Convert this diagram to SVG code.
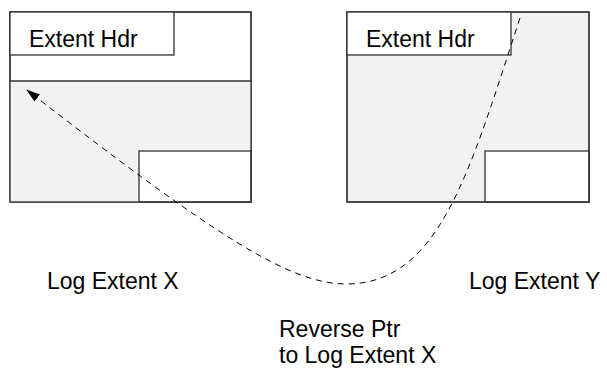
<svg xmlns="http://www.w3.org/2000/svg" width="607" height="370" viewBox="0 0 607 370">
<defs>
<style>
.box{fill:#ffffff;stroke:#333333;stroke-width:1.3}
.gray{fill:#f2f2f2;stroke:none}
.ln{fill:none;stroke:#333333;stroke-width:1.3}
.t{font-family:"Liberation Sans",Arial,Helvetica,sans-serif;font-size:23px;fill:#000000}
.conn{fill:none;stroke:#000000;stroke-width:1;stroke-dasharray:6,5}
</style>
<marker id="arr" markerWidth="14" markerHeight="9" refX="13" refY="4.5" orient="auto" markerUnits="userSpaceOnUse">
<path d="M0,0 L14,4.5 L0,9 Z" fill="#000000"/>
</marker>
</defs>
<rect width="607" height="370" fill="#ffffff"/>
<g id="logExtentX">
<rect class="box" x="10" y="12" width="241" height="190"/>
<path class="gray" d="M10,81 H251 V151 H139 V202 H10 Z"/>
<path class="ln" d="M10,81 H251"/>
<rect class="box" x="139" y="151" width="112" height="51"/>
<rect class="box" x="10" y="12" width="241" height="190" style="fill:none"/>
<rect class="box" x="10" y="12" width="164" height="43"/>
<text class="t" x="29" y="47">Extent Hdr</text>
</g>
<g id="logExtentY">
<rect class="box" x="347" y="12" width="242" height="190" style="fill:#f2f2f2"/>
<rect class="box" x="485" y="151" width="104" height="51"/>
<rect class="box" x="347" y="12" width="242" height="190" style="fill:none"/>
<rect class="box" x="347" y="12" width="164" height="43"/>
<text class="t" x="366" y="47">Extent Hdr</text>
</g>
<g id="labels">
<text class="t" x="47" y="289">Log Extent X</text>
<text class="t" x="469" y="289">Log Extent Y</text>
<text class="t" x="279" y="337">Reverse Ptr</text>
<text class="t" x="279" y="363">to Log Extent X</text>
</g>
<g id="connectors">
<path class="conn" d="M520,18 C470,170 440,285 345,284 C290,283 220,240 27,90" marker-end="url(#arr)"/>
</g>
</svg>
